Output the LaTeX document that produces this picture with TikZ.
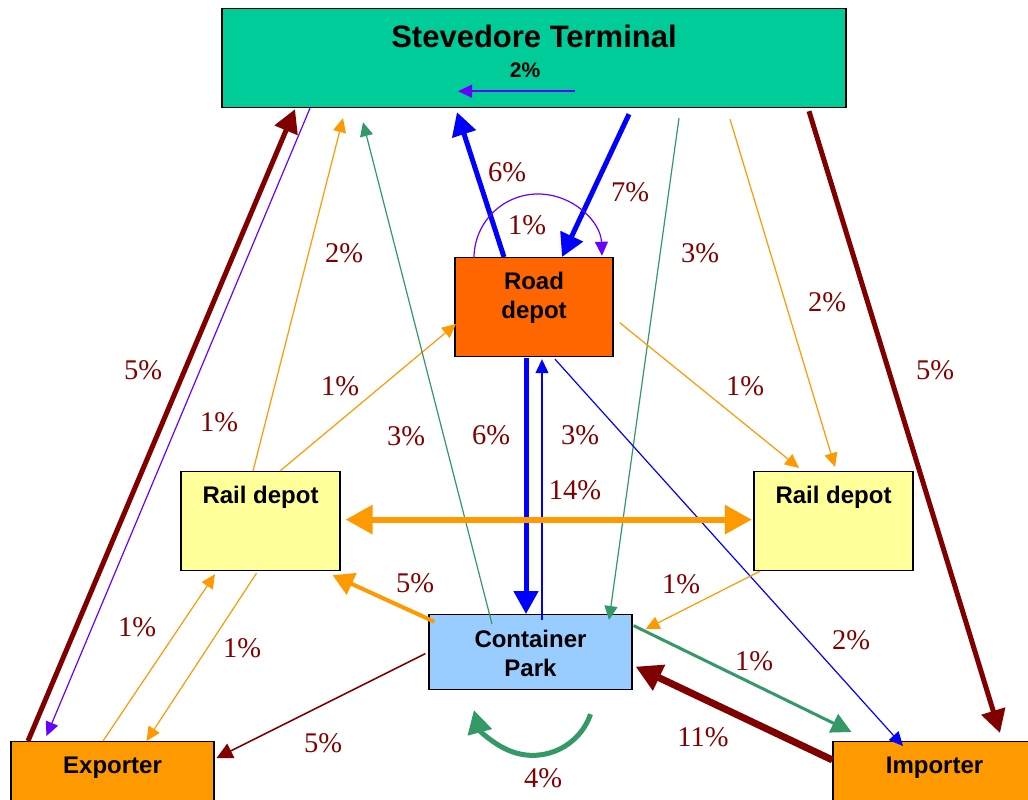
\documentclass[tikz,border=0pt]{standalone}
\usepackage{fontspec}
\setmainfont{Liberation Serif}
\newfontfamily\boxfont{Liberation Sans}
\usetikzlibrary{arrows.meta, calc, positioning}

\definecolor{stgreen}{HTML}{00CC99}
\definecolor{roadorange}{HTML}{FF6600}
\definecolor{railyellow}{HTML}{FFFF99}
\definecolor{parkblue}{HTML}{99CCFF}
\definecolor{tradeorange}{HTML}{FF9900}
\definecolor{flowblue}{HTML}{0000FF}
\definecolor{flowviolet}{HTML}{6600FF}
\definecolor{flowred}{HTML}{800000}
\definecolor{floworange}{HTML}{FF9900}
\definecolor{flowgreen}{HTML}{339966}

\begin{document}
\begin{tikzpicture}[x=1pt, y=-1pt]
	\tikzset{
		box/.style={draw, line width=1.2pt, inner sep=0pt, anchor=north},
		boxtext/.style={font=\boxfont\bfseries\fontsize{24}{29}\selectfont, align=center, inner sep=0pt},
		pct/.style={text=flowred, font=\fontsize{28.5}{28.5}\selectfont, inner sep=0pt},
		flow/.style={line width=1.2pt, -{Triangle[length=14pt, width=13pt]}},
		midflow/.style={line width=3pt, -{Triangle[length=20pt, width=20pt]}},
		bigflow/.style={line width=5pt, -{Triangle[length=23pt, width=24pt]}}
	}
	
	\fill[white] (0,0) rectangle (1028,800);
	\useasboundingbox (0,0) rectangle (1028,800);
	\clip (0,0) rectangle (1028,800);
	
	\node[box, fill=stgreen, minimum width=624pt, minimum height=99pt,
		label={[boxtext, font=\boxfont\bfseries\fontsize{31}{36}\selectfont, yshift=22.1pt]center:Stevedore Terminal},
		label={[boxtext, font=\boxfont\bfseries\fontsize{21}{24}\selectfont, xshift=-9pt, yshift=-12pt]center:2\%}] (st) at (534,8) {};
	\node[box, fill=roadorange, minimum width=158pt, minimum height=99pt,
		label={[boxtext, yshift=9pt]center:Road\\depot}] (road) at (534,257) {};
	\node[box, fill=railyellow, minimum width=159pt, minimum height=99pt,
		label={[boxtext, yshift=24pt]center:Rail depot}] (railL) at (260.5,471) {};
	\node[box, fill=railyellow, minimum width=159pt, minimum height=99pt,
		label={[boxtext, yshift=24pt]center:Rail depot}] (railR) at (833.5,471) {};
	\node[box, fill=parkblue, minimum width=203pt, minimum height=75pt,
		label={[boxtext, yshift=-1pt]center:Container\\Park}] (park) at (530.5,614) {};
	\node[box, fill=tradeorange, minimum width=203pt, minimum height=70pt,
		label={[boxtext, yshift=9pt]center:Exporter}] (exp) at (112.5,741) {};
	\node[box, fill=tradeorange, minimum width=203pt, minimum height=70pt,
		label={[boxtext, yshift=9pt]center:Importer}] (imp) at (934.5,741) {};
	
	\draw[flow, flowviolet, line width=1.5pt] ($(st.south)+(41,-17)$) -- ($(st.south)+(-76,-17)$);
	
	\draw[bigflow, flowblue] ($(st.south)+(95,6)$) -- ($(road.north)+(28,0)$);
	\draw[bigflow, flowblue] ($(road.north)+(-30,0)$) -- ($(st.south)+(-77,4)$);
	\draw[flow, flowviolet] ($(road.north)+(-60,1)$) arc[start angle=180, end angle=2, radius=64pt];
	\draw[bigflow, flowblue] ($(road.south)+(-8,1)$) -- ($(park.north)+(-4.5,0)$);
	\draw[flow, flowblue] ($(park.north)+(11.5,6)$) -- ($(road.south)+(8,2)$);
	
	\draw[bigflow, flowred] ($(st.south)+(275,3)$) -- ($(imp.north)+(65.5,-8)$);
	\draw[bigflow, flowred] ($(exp.north)+(-84.5,0)$) -- ($(st.south)+(-239,1)$);
	\draw[flow, flowviolet] ($(st.south)+(-224,0)$) -- ($(exp.north)+(-66,-5)$);
	
	\draw[flow, floworange] ($(railL.north)+(-7.5,0)$) -- ($(st.south)+(-191,10)$);
	\draw[flow, floworange] ($(railL.north)+(19.5,0)$) -- ($(road.west)+(1.7,16.8)$);
	\draw[flow, flowgreen] ($(park.north)+(-38.5,10)$) -- ($(st.south)+(-171,14)$);
	\draw[flow, flowgreen] ($(st.south)+(145,10)$) -- ($(park.north)+(78.5,6)$);
	\draw[flow, floworange] ($(st.south)+(196,11)$) -- ($(railR.north)+(1.5,-4)$);
	\draw[flow, floworange] ($(road.east)+(6,15.5)$) -- ($(railR.north)+(-34.5,-3)$);
	\draw[flow, flowblue] ($(road.south)+(21,2)$) -- ($(imp.north)+(-31.5,5)$);
	
	\draw[flow, floworange] ($(railR.south)+(-73.5,0)$) -- ($(park.east)+(13,-23)$);
	\draw[midflow, flowgreen] ($(park.east)+(1,-26.5)$) -- ($(imp.north)+(-83,-9)$);
	\draw[flowred, line width=7pt, -{Triangle[length=26pt, width=27pt]}] ($(imp.north west)+(0,19)$) -- ($(park.east)+(3,14.5)$);
	\draw[floworange, line width=4pt, -{Triangle[length=21pt, width=23pt]}] ($(park.north west)+(6,7.7)$) -- ($(railL.south east)+(-8,4)$);
	\draw[flow, flowred, line width=1.5pt, -{Triangle[length=16pt, width=16pt]}] ($(park.west)+(-3,1.5)$) -- ($(exp.north east)+(2,17)$);
	\draw[flow, floworange] ($(exp.north)+(-9.5,0)$) -- ($(railL.south)+(-45.5,3)$);
	\draw[flow, floworange] ($(railL.south)+(-4,2)$) -- ($(exp.north)+(34,0)$);
	\draw[bigflow, flowgreen] ($(park.south)+(60,24)$) arc[start angle=-19, end angle=-165, radius=61pt];
	
	\draw[floworange, line width=6pt, {Triangle[length=27pt, width=28pt]}-{Triangle[length=27pt, width=28pt]}] ($(railL.east)+(5,-1.5)$) -- ($(railR.west)+(-1.5,-1.5)$);
	
	\node[pct] (p7) at (630,192) {7\%};
	\node[pct] (p6up) at (507,172) {6\%};
	\node[pct] (p1loop) at (527,225) {1\%};
	\node[pct] (p6mid) at (491,435) {6\%};
	\node[pct] (p3mid) at (580,435) {3\%};
	\node[pct] (p14) at (575,490) {14\%};
	\node[pct] (p3left) at (406,436) {3\%};
	\node[pct] (p3right) at (700,253) {3\%};
	\node[pct] (p2left) at (344,253) {2\%};
	\node[pct] (p2right) at (827,302) {2\%};
	\node[pct] (p1left) at (340,386) {1\%};
	\node[pct] (p1right) at (745,386) {1\%};
	\node[pct] (p5left) at (143,370) {5\%};
	\node[pct] (p5right) at (935,370) {5\%};
	\node[pct] (p1violet) at (219,422) {1\%};
	\node[pct] (p5orange) at (415,583) {5\%};
	\node[pct] (p1rail) at (681,584) {1\%};
	\node[pct] (p2blue) at (851,640) {2\%};
	\node[pct] (p1green) at (754,661) {1\%};
	\node[pct] (p11) at (703,737) {11\%};
	\node[pct] (p5red) at (323,743) {5\%};
	\node[pct] (p1exp) at (137,627) {1\%};
	\node[pct] (p1railexp) at (242,648) {1\%};
	\node[pct] (p4) at (543,778) {4\%};
\end{tikzpicture}
\end{document}
